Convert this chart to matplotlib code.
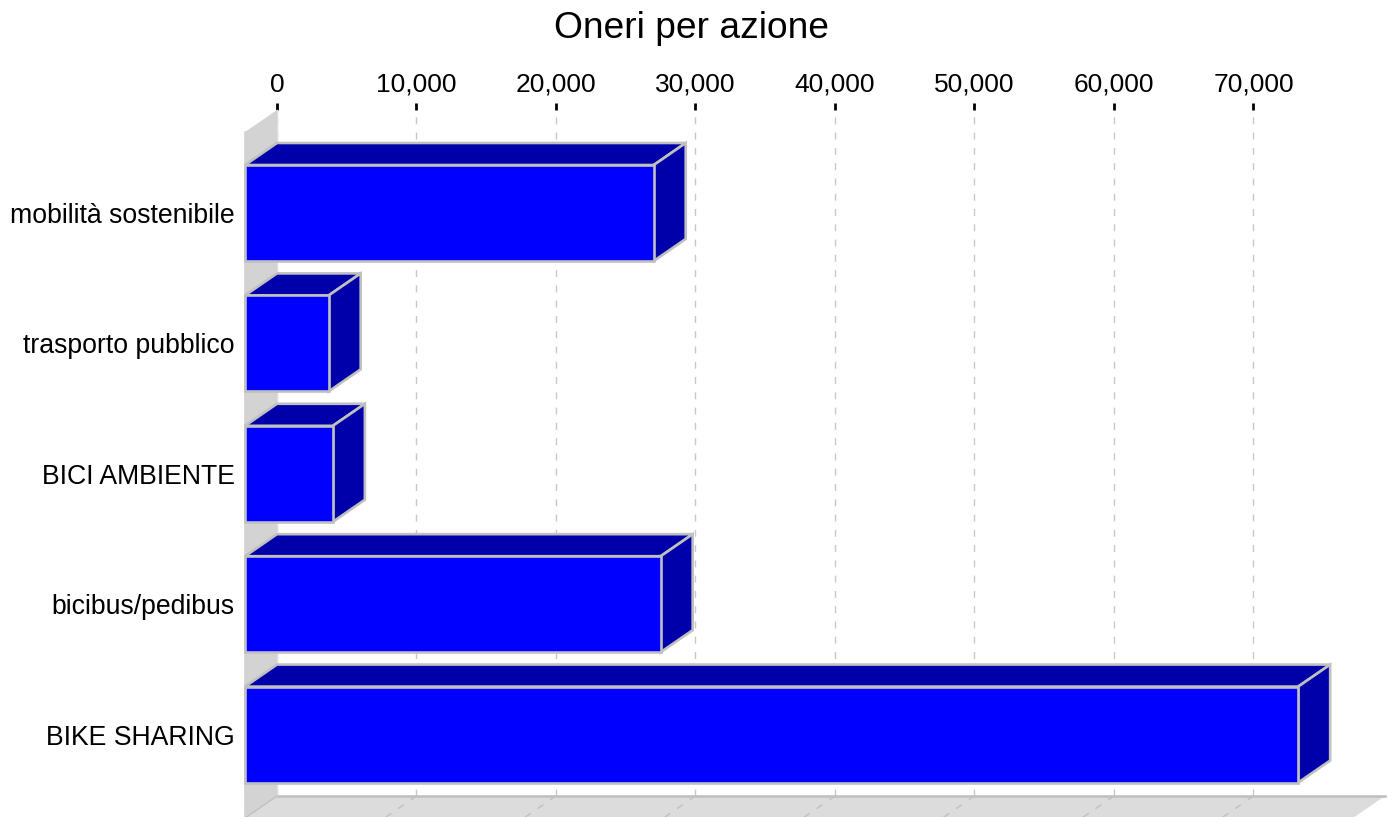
import matplotlib
matplotlib.use('Agg')
import matplotlib.pyplot as plt
from matplotlib.patches import Polygon

plt.rcParams['font.family'] = ['Liberation Sans', 'DejaVu Sans']

categories = ['mobilità sostenibile', 'trasporto pubblico', 'BICI AMBIENTE', 'bicibus/pedibus', 'BIKE SHARING']
values = [29300, 6000, 6300, 29800, 75500]
ticks = [0, 10000, 20000, 30000, 40000, 50000, 60000, 70000]

W, H = 1395, 817
fig = plt.figure(figsize=(W / 100, H / 100), dpi=100)
# axes = back plane of the fake 3d box
ax = fig.add_axes([277 / W, 1 - 796 / H, (1385 - 277) / W, (796 - 110) / H])
ax.set_xlim(0, 79430)
ax.set_ylim(4.471, -0.79)

# depth of the box in data units
dx = 2294
dy = 0.169
bar_h = 0.736
edge = '#c0c0c0'
lw = 1.9

for s in ax.spines.values():
    s.set_visible(False)
ax.xaxis.tick_top()
ax.set_xticks(ticks)
ax.set_xticklabels([f'{t:,}' for t in ticks], fontsize=19)
ax.tick_params(axis='x', length=5, width=2, color='black', pad=4.5)
ax.set_yticks(range(len(categories)))
ax.set_yticklabels(categories, fontsize=19.2)
ax.tick_params(axis='y', length=0, pad=30.5)
ax.grid(axis='x', color='#c8c8c8', linestyle=(0, (5, 6)), linewidth=1)
ax.set_axisbelow(True)

y0, y1 = ax.get_ylim()[1], ax.get_ylim()[0]
xmax = ax.get_xlim()[1]

# left wall and floor
ax.add_patch(Polygon([(0, y0), (0, y1), (-dx, y1 + dy), (-dx, y0 + dy)], fc='#d3d3d3', ec='none', clip_on=False, zorder=1))
ax.add_patch(Polygon([(0, y1), (xmax, y1), (xmax - dx, y1 + dy), (-dx, y1 + dy)], fc='#dcdcdc', ec='none', clip_on=False, zorder=1))
ax.plot([0, xmax], [y1, y1], color=edge, lw=lw, clip_on=False, zorder=2)
ax.plot([-dx, -dx], [y0 + dy, y1 + dy], color='#d3d3d3', lw=lw, clip_on=False, zorder=2)
ax.plot([0, 0], [y0, y1], color='#dddddd', lw=1, clip_on=False, zorder=2)
ax.plot([0, -dx], [y1, y1 + dy], color=edge, lw=1, clip_on=False, zorder=2)
for t in ticks[1:]:
    ax.plot([t, t - dx], [y1, y1 + dy], color='#c0c0c0', lw=1, ls=(0, (5, 6)), clip_on=False, zorder=2)

for i, v in enumerate(values):
    top = i - bar_h / 2
    bot = i + bar_h / 2
    x1 = v - dx
    ax.add_patch(Polygon([(-dx, top), (x1, top), (v, top - dy), (0, top - dy)], fc='#0000aa', ec=edge, lw=lw, clip_on=False, zorder=3))
    ax.add_patch(Polygon([(x1, top), (v, top - dy), (v, bot - dy), (x1, bot)], fc='#0000aa', ec=edge, lw=lw, clip_on=False, zorder=3))
    ax.barh(i, v, left=-dx, height=bar_h, color='#0000ff', edgecolor=edge, linewidth=lw, clip_on=False, zorder=4)

fig.text(691 / W, 1 - 29 / H, 'Oneri per azione', fontsize=26.7, ha='center', va='center')

fig.savefig('out.png', dpi=100)
